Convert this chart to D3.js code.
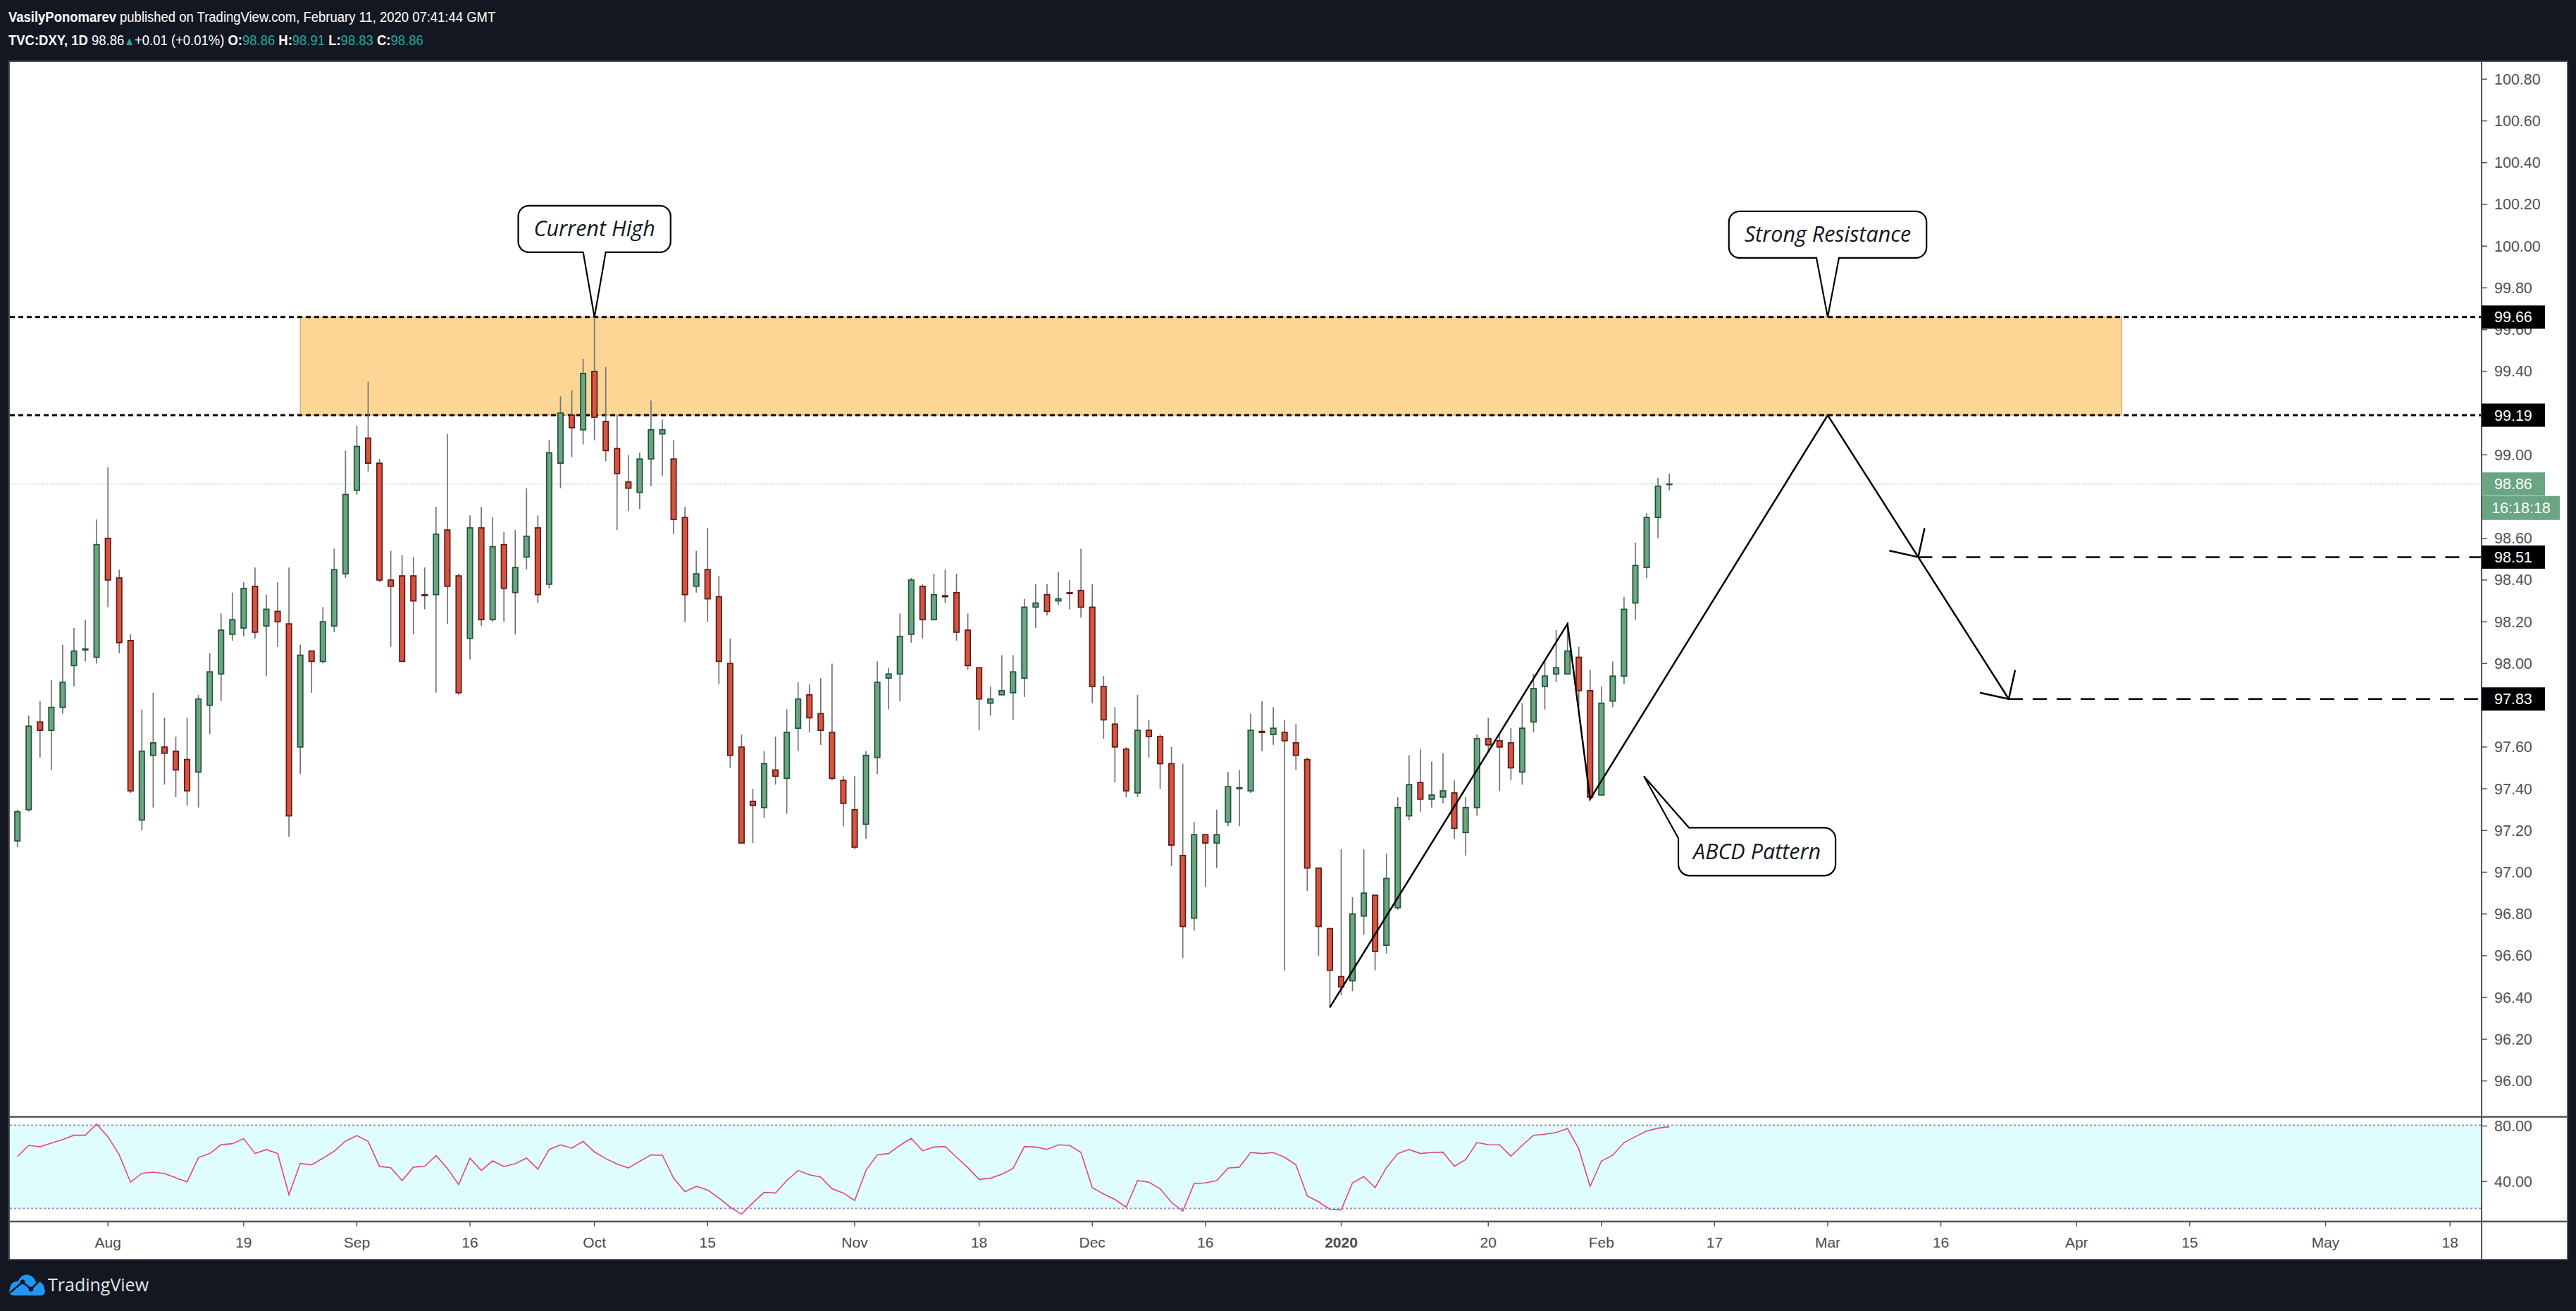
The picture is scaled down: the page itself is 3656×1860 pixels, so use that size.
<!DOCTYPE html>
<html><head><meta charset="utf-8">
<script src="https://cdn.jsdelivr.net/npm/d3@7"></script>
<style>
html,body{margin:0;padding:0;background:#131722;}
svg{display:block;}
</style></head>
<body>
<svg id="chart" width="3656" height="1860"></svg>
<script>
// ---------------- DATA ----------------
const firstSession = "2019-07-22";
const openP = [97.15,97.30,97.72,97.68,97.79,97.99,98.065,98.03,98.60,98.41,98.11,97.25,97.56,97.60,97.58,97.54,97.48,97.80,97.95,98.14,98.17,98.37,98.18,98.25,98.19,97.60,98.06,98.01,98.18,98.43,98.83,99.08,98.96,98.40,98.42,98.42,98.33,98.33,98.64,98.42,98.12,98.65,98.21,98.57,98.34,98.51,98.65,98.38,98.96,99.19,99.12,99.40,99.16,99.03,98.87,98.82,98.98,99.10,98.98,98.70,98.37,98.45,98.32,98.00,97.60,97.34,97.31,97.49,97.45,97.69,97.85,97.76,97.67,97.44,97.30,97.23,97.55,97.93,97.95,98.14,98.37,98.21,98.325,98.34,98.16,97.98,97.81,97.85,97.86,97.93,98.27,98.33,98.30,98.34,98.35,98.27,97.89,97.71,97.59,97.38,97.68,97.65,97.52,97.08,96.78,97.18,97.14,97.24,97.40,97.39,97.675,97.66,97.67,97.62,97.54,97.02,96.73,96.50,96.48,96.79,96.89,96.65,96.83,97.27,97.43,97.35,97.36,97.38,97.19,97.31,97.64,97.63,97.62,97.48,97.72,97.89,97.95,97.95,98.03,97.87,97.37,97.82,97.94,98.29,98.46,98.70,98.86];
const highP = [97.30,97.75,97.82,97.92,98.09,98.17,98.21,98.69,98.94,98.45,98.14,97.78,97.86,97.74,97.65,97.74,97.85,98.05,98.24,98.34,98.39,98.46,98.33,98.39,98.46,98.09,98.06,98.27,98.55,99.02,99.14,99.35,98.98,98.54,98.52,98.51,98.46,98.75,99.10,98.43,98.71,98.75,98.70,98.63,98.64,98.84,98.71,99.07,99.28,99.31,99.46,99.66,99.42,99.19,99.00,99.01,99.26,99.17,99.07,98.75,98.54,98.65,98.42,98.12,97.66,97.40,97.58,97.65,97.78,97.91,97.90,97.93,98.00,97.46,97.46,97.58,98.01,97.98,98.24,98.41,98.38,98.43,98.45,98.43,98.24,97.98,97.89,98.04,98.04,98.31,98.38,98.38,98.44,98.40,98.55,98.38,97.94,97.79,97.60,97.85,97.73,97.66,97.60,97.52,97.24,97.18,97.30,97.48,97.49,97.76,97.82,97.79,97.73,97.71,97.55,97.02,96.73,97.11,96.88,97.11,96.89,97.09,97.36,97.56,97.59,97.53,97.57,97.44,97.36,97.66,97.74,97.66,97.69,97.81,97.95,98.01,98.16,98.19,98.08,97.97,97.89,98.01,98.32,98.58,98.72,98.89,98.91];
const lowP = [97.12,97.29,97.55,97.49,97.76,97.89,98.01,98.00,98.27,98.05,97.38,97.20,97.31,97.42,97.36,97.32,97.31,97.66,97.82,98.11,98.13,98.12,97.94,98.08,97.17,97.47,97.86,98.00,98.15,98.41,98.81,98.92,98.39,98.08,98.01,98.14,98.26,97.86,98.19,97.85,98.02,98.18,98.20,98.20,98.14,98.45,98.29,98.36,98.84,98.99,99.05,99.07,98.97,98.64,98.73,98.74,98.85,98.90,98.62,98.20,98.34,98.20,97.90,97.50,97.14,97.14,97.26,97.42,97.28,97.58,97.67,97.61,97.44,97.22,97.11,97.16,97.47,97.78,97.82,98.10,98.12,98.21,98.29,98.11,97.97,97.68,97.75,97.85,97.73,97.84,98.17,98.23,98.28,98.26,98.22,97.81,97.64,97.43,97.36,97.36,97.55,97.40,97.03,96.59,96.72,96.93,97.02,97.22,97.22,97.38,97.58,97.61,96.53,97.49,96.91,96.60,96.35,96.41,96.43,96.70,96.53,96.61,96.82,97.25,97.29,97.31,97.33,97.16,97.08,97.27,97.58,97.39,97.44,97.42,97.67,97.78,97.91,97.95,97.79,97.35,97.37,97.79,97.90,98.21,98.41,98.60,98.83];
const closeP = [97.29,97.70,97.68,97.79,97.91,98.06,98.07,98.57,98.40,98.10,97.39,97.58,97.62,97.57,97.49,97.39,97.83,97.96,98.16,98.21,98.36,98.15,98.26,98.20,97.27,98.04,98.01,98.20,98.45,98.81,99.04,98.96,98.40,98.37,98.01,98.30,98.325,98.62,98.37,97.86,98.65,98.21,98.56,98.36,98.46,98.61,98.33,99.01,99.20,99.13,99.39,99.18,99.02,98.91,98.84,98.98,99.12,99.12,98.69,98.33,98.43,98.31,98.01,97.56,97.14,97.32,97.52,97.46,97.67,97.83,97.74,97.68,97.45,97.33,97.12,97.56,97.91,97.95,98.13,98.40,98.21,98.33,98.32,98.15,97.99,97.83,97.83,97.87,97.96,98.27,98.29,98.25,98.31,98.335,98.27,97.89,97.73,97.60,97.39,97.68,97.65,97.52,97.13,96.74,97.18,97.14,97.18,97.41,97.405,97.68,97.67,97.69,97.63,97.56,97.02,96.74,96.53,96.45,96.80,96.90,96.62,96.97,97.31,97.42,97.35,97.37,97.39,97.21,97.31,97.64,97.61,97.60,97.50,97.69,97.88,97.94,97.98,98.06,97.87,97.36,97.81,97.94,98.26,98.47,98.70,98.85,98.86];
const rsiValues = [57.4,65.5,64.5,67.2,69.7,72.8,72.8,80.8,71.8,58.7,38.9,45.3,46.2,45.2,42.1,39.2,56.7,59.6,66.0,66.7,70.4,59.6,62.5,59.6,29.9,52.5,51.4,56.2,61.3,68.6,72.6,68.4,50.3,49.4,40.1,49.8,50.4,58.2,48.9,37.2,56.2,47.4,54.3,50.3,52.3,56.4,48.4,62.5,65.9,63.5,68.4,60.8,55.9,52.0,49.2,54.0,58.6,58.4,41.8,32.1,35.9,33.3,27.6,20.9,15.9,24.0,31.6,31.1,40.1,47.4,44.3,42.6,34.2,31.1,25.7,47.4,58.7,59.6,65.5,70.6,61.6,64.3,64.7,57.0,49.4,40.9,41.8,44.7,48.9,64.7,64.3,62.6,65.9,65.5,60.4,35.0,30.4,26.5,20.9,40.1,38.9,34.2,24.3,18.1,37.9,38.4,40.1,49.1,49.8,60.4,59.6,60.3,57.0,51.4,29.1,24.8,19.4,18.9,38.4,43.0,35.0,49.4,59.6,62.5,59.6,60.4,60.6,50.4,55.3,67.5,66.0,65.9,57.7,65.5,72.8,73.5,74.8,77.7,63.0,35.9,54.2,58.4,67.5,71.8,75.8,77.9,78.9];
const priceTicks = [96.00,96.20,96.40,96.60,96.80,97.00,97.20,97.40,97.60,97.80,98.00,98.20,98.40,98.60,98.80,99.00,99.20,99.40,99.60,99.80,100.00,100.20,100.40,100.60,100.80];
const rsiTicks = [80, 40];
const rsiBands = [80, 20];
const timeTickDates = ["2019-08-01","2019-08-19","2019-09-02","2019-09-16","2019-10-01","2019-10-15","2019-11-01","2019-11-18","2019-12-02","2019-12-16","2020-01-01","2020-01-20","2020-02-03","2020-02-17","2020-03-02","2020-03-16","2020-04-01","2020-04-15","2020-05-01","2020-05-18"];
const timeTickLabels = ["Aug","19","Sep","16","Oct","15","Nov","18","Dec","16","2020","20","Feb","17","Mar","16","Apr","15","May","18"];
const zoneLevels = [99.66, 99.19];
const zoneDates = ["2019-08-26","2020-04-07"];
const targetLevels = [98.51, 97.83];
const abcdDates = ["2019-12-31","2020-01-29","2020-01-31","2020-03-02","2020-03-12","2020-03-24"];
const abcdPrices = [96.353, 98.19, 97.35, 99.19, 98.51, 97.83];
const countdownText = "16:18:18";
const headerLine1 = ["VasilyPonomarev", " published on TradingView.com, February 11, 2020 07:41:44 GMT"];
const symbolText = "TVC:DXY, 1D";

// ---------------- LAYOUT ----------------
const paneL = 14, axisX = 3522, frameR = 3643;
const mainTop = 88, mainBot = 1584, rsiTop = 1586, rsiBot = 1732, frameBot = 1786;
const svg = d3.select("#chart");
const GREEN = "#6ba583", GREEN_B = "#225437", RED = "#d75442", RED_B = "#5e1b15";
const TEAL = "#26a69a";

// calendar of sessions (weekdays)
const cal = d3.timeDay.range(new Date(2019,6,22), new Date(2020,5,30)).filter(d => d.getDay() !== 0 && d.getDay() !== 6);
const fmt = d3.timeFormat("%Y-%m-%d");
const idx = new Map(cal.map((d,i) => [fmt(d), i]));
const xi = s => idx.get(s);

const x = d3.scaleLinear().domain([0, 146]).range([24.7, 24.7 + 146*16.058]);
const y = d3.scaleLinear().domain([96, 100.8]).range([1533.6, 112.3]);
const yr = d3.scaleLinear().domain([20, 80]).range([1714.5, 1596.5]);

// frame
svg.append("rect").attr("width",3656).attr("height",1860).attr("fill","#131722");
svg.append("rect").attr("x",paneL).attr("y",mainTop).attr("width",frameR-paneL).attr("height",frameBot-mainTop).attr("fill","#ffffff");

const defs = svg.append("defs");
defs.append("clipPath").attr("id","mainClip").append("rect").attr("x",paneL).attr("y",mainTop).attr("width",axisX-paneL).attr("height",mainBot-mainTop);
defs.append("clipPath").attr("id","rsiClip").append("rect").attr("x",paneL).attr("y",rsiTop).attr("width",axisX-paneL).attr("height",rsiBot-rsiTop);

const main = svg.append("g").attr("clip-path","url(#mainClip)");

// resistance zone
main.append("rect")
  .attr("x", x(xi(zoneDates[0]))).attr("y", y(zoneLevels[0]))
  .attr("width", x(xi(zoneDates[1])) - x(xi(zoneDates[0])))
  .attr("height", y(zoneLevels[1]) - y(zoneLevels[0]))
  .attr("fill","#fdd595").attr("stroke","#c99a52").attr("stroke-width",1);

// last price line
const lastClose = closeP[closeP.length-1];
main.append("line").attr("x1",paneL).attr("x2",axisX).attr("y1",y(lastClose)).attr("y2",y(lastClose))
  .attr("stroke","#8fc3a6").attr("stroke-width",1.2).attr("stroke-dasharray","1.5,2");

// zone dotted lines full width
main.selectAll("line.zone").data(zoneLevels).join("line").attr("class","zone")
  .attr("x1",paneL).attr("x2",axisX).attr("y1",d=>y(d)).attr("y2",d=>y(d))
  .attr("stroke","#000").attr("stroke-width",3).attr("stroke-dasharray","7,5");

// candles
const candles = openP.map((o,i) => ({i, o, h:highP[i], l:lowP[i], c:closeP[i], up: closeP[i] >= o}));
main.selectAll("line.wick").data(candles).join("line").attr("class","wick")
  .attr("x1",d=>x(d.i)).attr("x2",d=>x(d.i)).attr("y1",d=>y(d.h)).attr("y2",d=>y(d.l))
  .attr("stroke","#737375").attr("stroke-width",1.7);
main.selectAll("rect.body").data(candles).join("rect").attr("class","body")
  .attr("x",d=>x(d.i)-3.7).attr("width",7.4)
  .attr("y",d=>y(Math.max(d.o,d.c)))
  .attr("height",d=>Math.max(0.8, Math.abs(y(d.o)-y(d.c))))
  .attr("fill",d=>d.up?GREEN:RED).attr("stroke",d=>d.up?GREEN_B:RED_B).attr("stroke-width",1.7);

// ABCD + projection lines
const pts = abcdDates.map((d,k) => [x(xi(d)), y(abcdPrices[k])]);
main.append("path").attr("d", d3.line()(pts)).attr("fill","none").attr("stroke","#000").attr("stroke-width",2.5).attr("stroke-linejoin","miter");
function arrowHead(p, q){ // arrow at q coming from p
  const ang = Math.atan2(p[1]-q[1], p[0]-q[0]);
  const L = 42, s = Math.PI/4;
  const a1 = [q[0]+L*Math.cos(ang+s), q[1]+L*Math.sin(ang+s)];
  const a2 = [q[0]+L*Math.cos(ang-s), q[1]+L*Math.sin(ang-s)];
  main.append("path").attr("d", d3.line()([a1,q,a2])).attr("fill","none").attr("stroke","#000").attr("stroke-width",2.5);
}
arrowHead(pts[3], pts[4]);
arrowHead(pts[4], pts[5]);
targetLevels.forEach((lv,k) => {
  main.append("line").attr("x1", pts[4+k][0]).attr("x2", axisX).attr("y1", y(lv)).attr("y2", y(lv))
    .attr("stroke","#000").attr("stroke-width",2.5).attr("stroke-dasharray","20,14");
});

// callouts
const CFONT = "'Open Sans', 'Noto Sans', sans-serif";
const CSIZE = 30.5;
function bottomCallout(text, tip, gap){
  const g = svg.append("g");
  const t = g.append("text").attr("font-family",CFONT).attr("font-style","italic").attr("font-size",CSIZE)
    .attr("fill","#131722").attr("text-anchor","middle").text(text);
  const tw = t.node().getComputedTextLength();
  const w = tw + 44, h = 66, r = 15, cx = tip[0];
  const x0 = cx - w/2, y1 = tip[1] - gap, y0 = y1 - h;
  const b1 = cx - 16, b2 = cx + 16;
  g.insert("path","text").attr("d",
    `M${x0+r},${y0}H${x0+w-r}A${r},${r} 0 0 1 ${x0+w},${y0+r}V${y1-r}A${r},${r} 0 0 1 ${x0+w-r},${y1}H${b2}L${tip[0]},${tip[1]}L${b1},${y1}H${x0+r}A${r},${r} 0 0 1 ${x0},${y1-r}V${y0+r}A${r},${r} 0 0 1 ${x0+r},${y0}Z`)
    .attr("fill","#fff").attr("stroke","#000").attr("stroke-width",2.2);
  t.attr("x",cx).attr("y",(y0+y1)/2+10.5);
}
bottomCallout("Current High", [x(xi("2019-10-01")), y(99.66)], 92);
bottomCallout("Strong Resistance", [x(xi("2020-03-02")), y(99.66)], 84);
(function(){
  const tip = [x(xi("2020-02-06")+0.75), y(97.46)];
  const g = svg.append("g");
  const t = g.append("text").attr("font-family",CFONT).attr("font-style","italic").attr("font-size",CSIZE)
    .attr("fill","#131722").attr("text-anchor","middle").text("ABCD Pattern");
  const tw = t.node().getComputedTextLength();
  const w = tw + 42, h = 68, r = 16;
  const x0 = tip[0] + 49, y0 = tip[1] + 73;
  g.insert("path","text").attr("d",
    `M${x0+15},${y0}H${x0+w-r}A${r},${r} 0 0 1 ${x0+w},${y0+r}V${y0+h-r}A${r},${r} 0 0 1 ${x0+w-r},${y0+h}H${x0+r}A${r},${r} 0 0 1 ${x0},${y0+h-r}V${y0+15}L${tip[0]},${tip[1]}Z`)
    .attr("fill","#fff").attr("stroke","#000").attr("stroke-width",2.2);
  t.attr("x",x0+w/2).attr("y",y0+h/2+10.5);
})();

// RSI pane
const rsi = svg.append("g").attr("clip-path","url(#rsiClip)");
rsi.append("rect").attr("x",paneL).attr("width",axisX-paneL).attr("y",yr(rsiBands[0])).attr("height",yr(rsiBands[1])-yr(rsiBands[0])).attr("fill","#e0fdfd");
rsi.selectAll("line.band").data(rsiBands).join("line").attr("class","band")
  .attr("x1",paneL).attr("x2",axisX).attr("y1",d=>yr(d)).attr("y2",d=>yr(d))
  .attr("stroke","#9a8fcb").attr("stroke-width",2).attr("stroke-dasharray","3,3");
rsi.append("path").attr("d", d3.line().x((d,i)=>x(i)).y(d=>yr(d))(rsiValues))
  .attr("fill","none").attr("stroke","#e2457d").attr("stroke-width",1.6);

// separators & axes lines
const G = "#545454";
svg.append("line").attr("x1",paneL).attr("x2",frameR).attr("y1",1584.5).attr("y2",1584.5).attr("stroke",G).attr("stroke-width",2.5);
svg.append("line").attr("x1",paneL).attr("x2",frameR).attr("y1",1733).attr("y2",1733).attr("stroke",G).attr("stroke-width",2.5);
svg.append("line").attr("x1",axisX).attr("x2",axisX).attr("y1",mainTop).attr("y2",frameBot).attr("stroke",G).attr("stroke-width",2);
svg.append("rect").attr("x",paneL-1).attr("y",mainTop-1).attr("width",frameR-paneL+2).attr("height",frameBot-mainTop+2).attr("fill","none").attr("stroke",G).attr("stroke-width",2);

// price axis
const AFONT = "'Liberation Sans', Arial, sans-serif";
const boxRanges = zoneLevels.concat(targetLevels).map(lv => [y(lv)-16.5, y(lv)+16.5])
  .concat([[y(lastClose)-16.5, y(lastClose)+51]]);
const visibleTicks = priceTicks.filter(p => !boxRanges.some(r => y(p) >= r[0] && y(p) <= r[1]));
const pa = svg.append("g");
pa.selectAll("line").data(priceTicks).join("line").attr("x1",axisX).attr("x2",axisX+8).attr("y1",d=>y(d)).attr("y2",d=>y(d)).attr("stroke",G).attr("stroke-width",1.5);
pa.selectAll("text").data(visibleTicks).join("text").attr("x",3540).attr("y",d=>y(d)+7.5)
  .attr("font-family",AFONT).attr("font-size",21.5).attr("fill","#505050").text(d=>d.toFixed(2));
pa.selectAll("line.r").data(rsiTicks).join("line").attr("class","r").attr("x1",axisX).attr("x2",axisX+8).attr("y1",d=>yr(d)+1).attr("y2",d=>yr(d)+1).attr("stroke",G).attr("stroke-width",1.5);
pa.selectAll("text.r").data(rsiTicks).join("text").attr("class","r").attr("x",3540).attr("y",d=>yr(d)+8.5)
  .attr("font-family",AFONT).attr("font-size",21.5).attr("fill","#505050").text(d=>d.toFixed(2));

// level label boxes
zoneLevels.concat(targetLevels).forEach(lv => {
  pa.append("rect").attr("x",axisX).attr("y",y(lv)-16.5).attr("width",90).attr("height",33).attr("fill","#000");
  pa.append("text").attr("x",3540).attr("y",y(lv)+7.5).attr("font-family",AFONT).attr("font-size",21.5).attr("fill","#fff").text(lv.toFixed(2));
});
pa.append("rect").attr("x",axisX).attr("y",y(lastClose)-16.5).attr("width",90).attr("height",33).attr("fill","#6aa584");
pa.append("text").attr("x",3540).attr("y",y(lastClose)+7.5).attr("font-family",AFONT).attr("font-size",21.5).attr("fill","#fff").text(lastClose.toFixed(2));
pa.append("rect").attr("x",axisX+1).attr("y",y(lastClose)+17).attr("width",110).attr("height",34).attr("fill","#6aa584");
pa.append("text").attr("x",axisX+56).attr("y",y(lastClose)+41.5).attr("text-anchor","middle").attr("font-family",AFONT).attr("font-size",21.5).attr("fill","#fff").text(countdownText);

// time axis
const ta = svg.append("g");
const tt = timeTickDates.map((d,k)=>({i:xi(d), label:timeTickLabels[k]}));
ta.selectAll("line").data(tt).join("line").attr("x1",d=>x(d.i)).attr("x2",d=>x(d.i)).attr("y1",1734).attr("y2",1740).attr("stroke",G).attr("stroke-width",1.5);
ta.selectAll("text").data(tt).join("text").attr("x",d=>x(d.i)).attr("y",1770).attr("text-anchor","middle")
  .attr("font-family",AFONT).attr("font-size",21).attr("font-weight",d=>d.label==="2020"?"bold":"normal").attr("fill","#4a4a4a").text(d=>d.label);

// header (condensed look via horizontal scale)
const HFONT = "'Liberation Sans', Arial, sans-serif";
const HSIZE = 21;
const hg1 = svg.append("g").attr("transform","translate(12,31) scale(0.88,1)");
const h1 = hg1.append("text").attr("x",0).attr("y",0).attr("font-family",HFONT).attr("font-size",HSIZE).attr("fill","#ffffff");
h1.append("tspan").attr("font-weight","bold").text(headerLine1[0]);
h1.append("tspan").text(headerLine1[1]);
const n = closeP.length;
const chg = closeP[n-1] - closeP[n-2];
const pct = chg / closeP[n-2] * 100;
const hg2 = svg.append("g").attr("transform","translate(12,64) scale(0.88,1)");
const h2 = hg2.append("text").attr("x",0).attr("y",0).attr("font-family",HFONT).attr("font-size",HSIZE).attr("fill","#ffffff");
h2.append("tspan").attr("font-weight","bold").text(symbolText);
h2.append("tspan").text("  " + closeP[n-1].toFixed(2));
h2.append("tspan").attr("fill",TEAL).attr("font-size",17).text("▲");
h2.append("tspan").text((chg>=0?"+":"") + chg.toFixed(2) + " (" + (pct>=0?"+":"") + pct.toFixed(2) + "%)");
[["O:",openP[n-1]],["H:",highP[n-1]],["L:",lowP[n-1]],["C:",closeP[n-1]]].forEach(([k,v]) => {
  h2.append("tspan").attr("font-weight","bold").text(" " + k);
  h2.append("tspan").attr("fill",TEAL).text(v.toFixed(2));
});

// logo
const logo = svg.append("g");
logo.append("circle").attr("cx",24).attr("cy",1828).attr("r",10).attr("fill","#2196f3");
logo.append("circle").attr("cx",38).attr("cy",1821).attr("r",12.5).attr("fill","#2196f3");
logo.append("circle").attr("cx",53).attr("cy",1828).attr("r",10).attr("fill","#2196f3");
logo.append("rect").attr("x",13).attr("y",1826).attr("width",51).attr("height",12).attr("rx",6).attr("fill","#2196f3");
logo.append("path").attr("d","M14,1834L32,1819L44,1829L58,1815").attr("fill","none").attr("stroke","#131722").attr("stroke-width",2.6);
[[32,1819],[44,1829]].forEach(p=>logo.append("circle").attr("cx",p[0]).attr("cy",p[1]).attr("r",3.4).attr("fill","#131722"));
svg.append("text").attr("x",68).attr("y",1832).attr("font-family","'Open Sans', sans-serif").attr("font-size",25).attr("fill","#e0e3eb").text("TradingView");
</script>
</body></html>
